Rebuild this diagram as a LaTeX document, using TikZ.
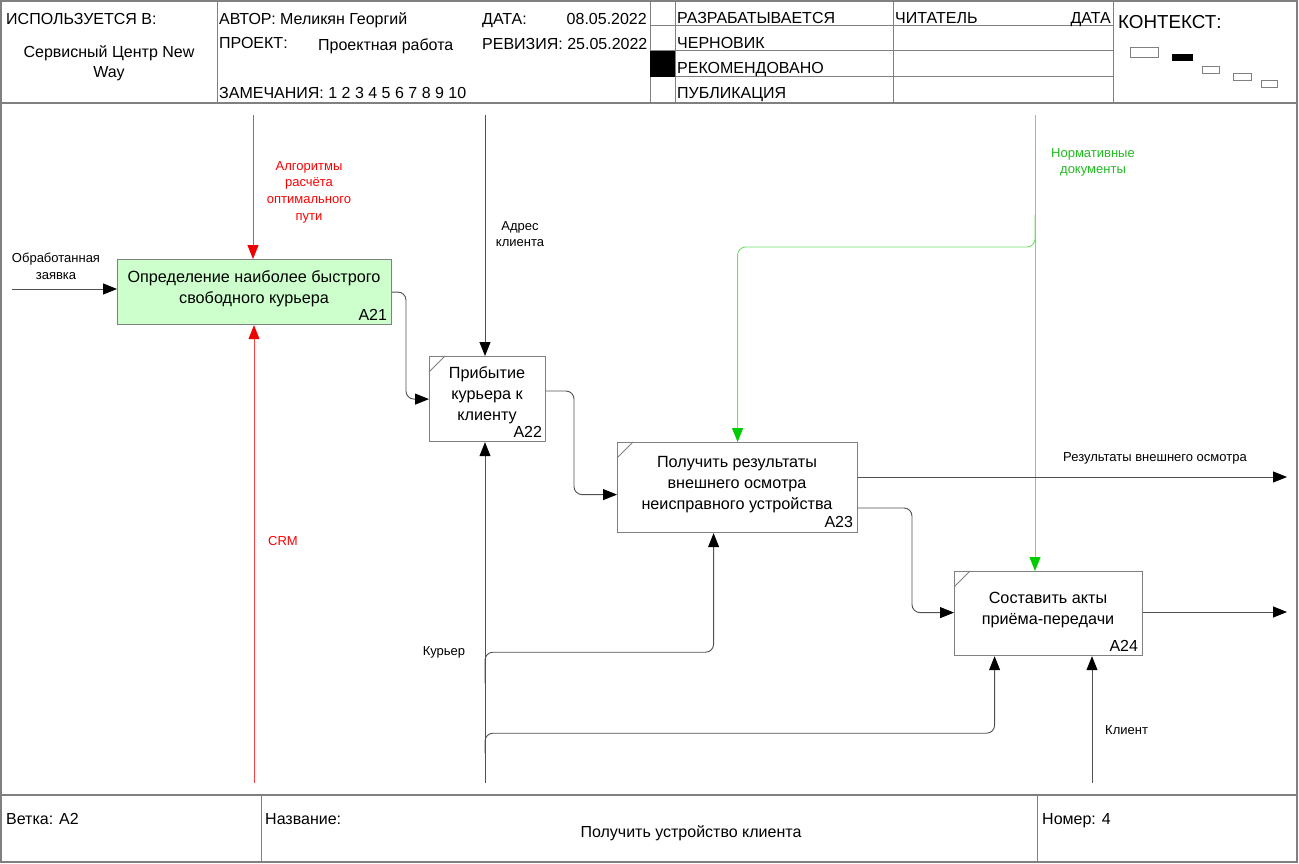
\documentclass[tikz,border=0pt]{standalone}
\usepackage{fontspec}
\setmainfont{Liberation Sans}
\usetikzlibrary{arrows.meta,calc}
\definecolor{framegray}{HTML}{808080}
\definecolor{linegray}{HTML}{505050}
\definecolor{boxgreen}{HTML}{CCFFCC}
\definecolor{ctrlred}{HTML}{FF4040}
\definecolor{tipred}{HTML}{EE0000}
\definecolor{lblred}{HTML}{FF0000}
\definecolor{ctrlgreen}{HTML}{70DD70}
\definecolor{tipgreen}{HTML}{00CC00}
\definecolor{lblgreen}{HTML}{22BB22}
\begin{document}
\begin{tikzpicture}[x=1pt,y=-1pt,
  frameline/.style={draw=framegray, line width=1.3pt},
  gridline/.style={draw=framegray, line width=1pt},
  box/.style={draw=framegray, line width=1.2pt, anchor=north west, inner sep=0pt},
  corner/.style={draw=framegray, line width=0.8pt},
  boxtext/.style={font=\fontsize{16.2}{21}\selectfont, align=center, inner sep=0pt},
  boxnum/.style={font=\fontsize{16}{18}\selectfont, anchor=south east, inner sep=0pt},
  head/.style={font=\fontsize{16}{18}\selectfont, anchor=base west, inner sep=0pt},
  headr/.style={font=\fontsize{16}{18}\selectfont, anchor=base east, inner sep=0pt},
  lbl/.style={font=\fontsize{13}{16.7}\selectfont, align=center, inner sep=0pt},
  arr/.style={draw=linegray, line width=0.9pt, -{Triangle[length=14pt,width=11pt,color=black]}, rounded corners=8pt},
  redarr/.style={draw=ctrlred, line width=0.9pt, -{Triangle[length=14pt,width=11pt,color=tipred]}},
  greenarr/.style={draw=ctrlgreen, line width=0.9pt, -{Triangle[length=14pt,width=11pt,color=tipgreen]}, rounded corners=8pt}
]
\useasboundingbox (0,0) rectangle (1299,864);
\fill[white] (0,0) rectangle (1299,864);

% ---------- frame ----------
\draw[frameline] (1,1) rectangle (1297,862);
\draw[frameline] (1,103) -- (1297,103);
\draw[gridline] (217,1) -- (217,103);
\draw[gridline] (650,1) -- (650,103);
\draw[gridline] (675,1) -- (675,103);
\draw[gridline] (893,1) -- (893,103);
\draw[gridline] (1113,1) -- (1113,103);
\draw[gridline] (650,26) -- (1113,26);
\draw[gridline] (650,51) -- (1113,51);
\draw[gridline] (650,77) -- (1113,77);
\fill[black] (650,51) rectangle (675,77);
\draw[frameline] (1,795) -- (1297,795);
\draw[gridline] (261,795) -- (261,862);
\draw[gridline] (1037,795) -- (1037,862);

% ---------- header texts ----------
\node[head] (h1) at (6,25) {ИСПОЛЬЗУЕТСЯ В:};
\node[font=\fontsize{16}{18}\selectfont, anchor=base, inner sep=0pt] (h2) at (109,58) {Сервисный Центр New};
\node[font=\fontsize{16}{18}\selectfont, anchor=base, inner sep=0pt] (h3) at (109,78) {Way};
\node[head] (h4) at (219,24.5) {АВТОР: Меликян Георгий};
\node[head] (h5) at (482,24.5) {ДАТА:};
\node[headr] (h6) at (647,24.5) {08.05.2022};
\node[head] (h7) at (219,49) {ПРОЕКТ:};
\node[head] (h8) at (318,51) {Проектная работа};
\node[head] (h9) at (482,49.5) {РЕВИЗИЯ: 25.05.2022};
\node[head] (h10) at (219,99) {ЗАМЕЧАНИЯ: 1 2 3 4 5 6 7 8 9 10};
\node[head] (h11) at (677,24) {РАЗРАБАТЫВАЕТСЯ};
\node[head] (h12) at (677,49) {ЧЕРНОВИК};
\node[head] (h13) at (677,74) {РЕКОМЕНДОВАНО};
\node[head] (h14) at (677,99) {ПУБЛИКАЦИЯ};
\node[head] (h15) at (895,24) {ЧИТАТЕЛЬ};
\node[headr] (h16) at (1111,24) {ДАТА};
\node[font=\fontsize{18.8}{22}\selectfont, anchor=base west, inner sep=0pt] (h17) at (1118,29) {КОНТЕКСТ:};
\draw[draw=framegray, line width=0.8pt] (1130,47) rectangle (1158,57);
\fill[black] (1172,54) rectangle (1193,61);
\draw[draw=framegray, line width=0.8pt] (1202,66) rectangle (1219,73);
\draw[draw=framegray, line width=0.8pt] (1233,73) rectangle (1251,80);
\draw[draw=framegray, line width=0.8pt] (1261,80) rectangle (1277,87);

% ---------- boxes ----------
\node[box, fill=boxgreen, minimum width=274pt, minimum height=65pt] (a21) at (117,259) {};
\node[box, minimum width=116pt, minimum height=85pt] (a22) at (429,356) {};
\node[box, minimum width=240pt, minimum height=90pt] (a23) at (617,442) {};
\node[box, minimum width=188pt, minimum height=84pt] (a24) at (954,571) {};
\draw[corner] ($(a22.north west)+(0,16)$) -- ($(a22.north west)+(16,0)$);
\draw[corner] ($(a23.north west)+(0,16)$) -- ($(a23.north west)+(16,0)$);
\draw[corner] ($(a24.north west)+(0,16)$) -- ($(a24.north west)+(16,0)$);

\node[boxtext] (t21) at (254,288.5) {Определение наиболее быстрого\\свободного курьера};
\node[boxtext] (t22) at (487,395.5) {Прибытие\\курьера к\\клиенту};
\node[boxtext] (t23) at (737,484.5) {Получить результаты\\внешнего осмотра\\неисправного устройства};
\node[boxtext] (t24) at (1048,610.5) {Составить акты\\приёма-передачи};
\node[boxnum] (n21) at ($(a21.south east)+(-5,-5)$) {A21};
\node[boxnum] (n22) at ($(a22.south east)+(-4,-5)$) {A22};
\node[boxnum] (n23) at ($(a23.south east)+(-5,-5)$) {A23};
\node[boxnum] (n24) at ($(a24.south east)+(-5,-5)$) {A24};

% ---------- free ends ----------
\coordinate (inA21) at (12,289);
\coordinate (cA21) at (253,115);
\coordinate (mA21) at (254,783);
\coordinate (cA22) at (485,115);
\coordinate (cNorm) at (1035,115);
\coordinate (outRes) at (1287,477);
\coordinate (outA24) at (1287,612);
\coordinate (mKur) at (485,783);
\coordinate (mCli) at (1092,783);

% ---------- connectors ----------
\draw[arr] (inA21) -- (inA21 -| a21.west);
\draw[redarr] (cA21) -- (cA21 |- a21.north);
\draw[redarr] (mA21) -- (mA21 |- a21.south);
\draw[arr] (a21.east) -| ($(a22.west)+(-23,0)$) -- (a22.west);
\draw[arr] (cA22) -- (cA22 |- a22.north);
\draw[arr] ($(a22.north east)+(0,35)$) -| ($(a23.west)+(-43,7)$) -- ($(a23.west)+(0,7)$);
\draw[greenarr] (cNorm) -- (cNorm |- a24.north);
\draw[greenarr] ($(cNorm)+(0,100)$) |- ($(a23.north)+(0,-195)$) -- (a23.north);
\draw[arr] ($(a23.north east)+(0,35)$) -- (outRes);
\draw[arr] ($(a23.north east)+(0,66)$) -| ($(a24.west)+(-42,-1)$) -- ($(a24.west)+(0,-1)$);
\draw[arr] (outA24 -| a24.east) -- (outA24);
\draw[arr] (mKur) -- (mKur |- a22.south);
\draw[arr] ($(mKur)+(0,-100)$) |- ($(a23.south)+(-24,119)$) -- ($(a23.south)+(-24,0)$);
\draw[arr] ($(mKur)+(0,-30)$) |- ($(a24.south)+(-54,77)$) -- ($(a24.south)+(-54,0)$);
\draw[arr] (mCli) -- (mCli |- a24.south);

% ---------- connector labels ----------
\node[lbl] (l1) at (56,266) {Обработанная\\заявка};
\node[lbl, text=lblred] (l2) at (309,192) {Алгоритмы\\расчёта\\оптимального\\пути};
\node[lbl, text=lblred] (l3) at (283,541) {CRM};
\node[lbl] (l4) at (520,234) {Адрес\\клиента};
\node[lbl, text=lblgreen] (l5) at (1093,162.5) {Нормативные\\документы};
\node[lbl] (l6) at (1155,458) {Результаты внешнего осмотра};
\node[lbl] (l7) at (444,652) {Курьер};
\node[lbl, anchor=west] (l8) at (1105,730) {Клиент};

% ---------- footer ----------
\node[head] (f1) at (6,824) {Ветка: A2};
\node[head] (f2) at (265,824) {Название:};
\node[font=\fontsize{16}{18}\selectfont, anchor=base, inner sep=0pt] (f3) at (691,837) {Получить устройство клиента};
\node[head] (f4) at (1042,824) {Номер: 4};
\end{tikzpicture}
\end{document}
